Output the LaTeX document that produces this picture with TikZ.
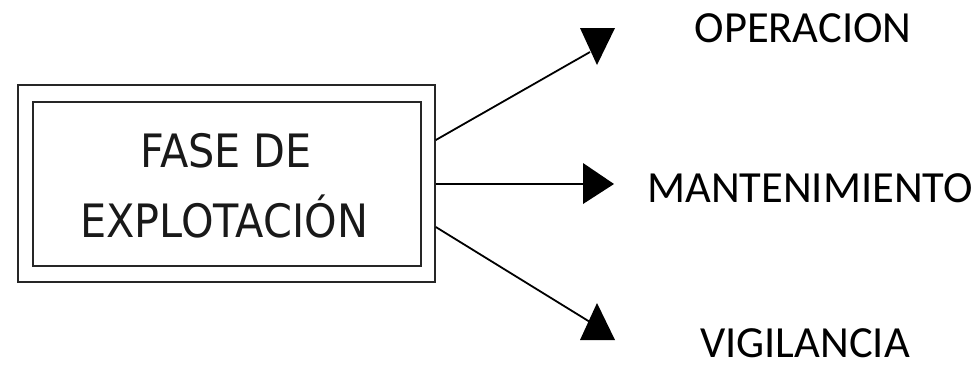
\documentclass[tikz,border=0pt]{standalone}
\usepackage{fontspec}
\setmainfont{Carlito}
\newfontfamily\cadfont[FakeStretch=0.9]{DejaVu Sans}
\begin{document}
\begin{tikzpicture}[x=1pt,y=-1pt,
  boxline/.style={draw=black!85,line width=1.6pt},
  conn/.style={draw=black,line width=1.8pt},
  tip/.style={fill=black},
  cadtext/.style={font=\cadfont\fontsize{46}{46}\selectfont,anchor=base,inner sep=0pt,text=black!90},
  lbl/.style={font=\fontsize{44.5}{44.5}\selectfont,anchor=base,inner sep=0pt}]
\useasboundingbox (0,0) rectangle (979,368);
\node[boxline,minimum width=417pt,minimum height=197pt,inner sep=0pt] (outer) at (226.5,183.5) {};
\node[boxline,minimum width=388pt,minimum height=164pt,inner sep=0pt] (inner) at (227,184) {};
\node[cadtext] (t1) at (226,167) {FASE DE};
\node[cadtext] (t2) at (224,237) {EXPLOTACIÓN};
% arrow ends
\coordinate (e1) at (590,52);
\coordinate (e2) at (586,184);
\coordinate (e3) at (590,322);
\draw[conn] (outer.east |- 0,140) -- (e1);
\draw[conn] (outer.east |- 0,184) -- (e2);
\draw[conn] (outer.east |- 0,227) -- (e3);
\fill[tip] (580,28) -- (615,28) -- (597,65) -- cycle;
\fill[tip] (583,163) -- (583,204) -- (614,184) -- cycle;
\fill[tip] (597,303) -- (615,340) -- (580,340) -- cycle;
\node[lbl] (l1) at (803,42) {OPERACION};
\node[lbl] (l2) at (810,202) {MANTENIMIENTO};
\node[lbl] (l3) at (805,357) {VIGILANCIA};
\end{tikzpicture}
\end{document}
